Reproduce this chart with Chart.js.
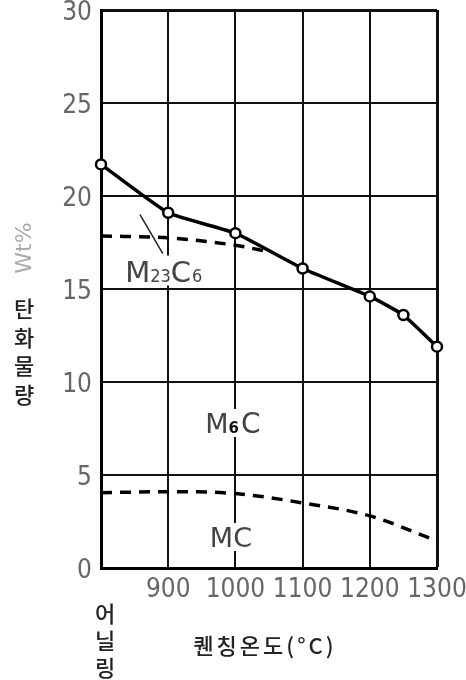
<!DOCTYPE html>
<html>
<head>
<meta charset="utf-8">
<script src="https://cdn.jsdelivr.net/npm/chart.js@4/dist/chart.umd.min.js"></script>
<style>
  html, body { margin: 0; padding: 0; background: #fff; }
  #wrap { width: 466px; height: 680px; }
</style>
</head>
<body>
<div id="wrap"><canvas id="chart" width="466" height="680"></canvas></div>
<script>
// 800 stands for the annealed state (어닐링)
const xTicks = [800, 900, 1000, 1100, 1200, 1300];
const yTicks = [0, 5, 10, 15, 20, 25, 30];

const totalTemps = [800, 900, 1000, 1100, 1200, 1250, 1300];
const totalCarbide = [21.7, 19.1, 18.0, 16.1, 14.6, 13.6, 11.9];

const m23Temps = [800, 900, 1000, 1050];
const m23Boundary = [17.85, 17.75, 17.35, 17.0];

const mcTemps = [800, 900, 1000, 1100, 1200, 1300];
const mcBoundary = [4.05, 4.1, 4.0, 3.5, 2.8, 1.45];

const toPts = (xs, ys) => xs.map((x, i) => ({ x: x, y: ys[i] }));

const tickFont = { family: "'Liberation Sans Narrow', 'DejaVu Sans Condensed'", size: 26 };
const krFont = "\"Noto Sans CJK KR\"";

// white box behind a label so the grid line is broken there, like the print
function clearBehind(ctx, x, y, w, h) {
  ctx.save();
  ctx.fillStyle = "#fff";
  ctx.fillRect(x, y, w, h);
  ctx.restore();
}

const labelsPlugin = {
  id: "labels",
  afterDraw(chart) {
    const ctx = chart.ctx;
    const x = chart.scales.x, y = chart.scales.y;
    ctx.save();

    ctx.fillStyle = "#444";
    ctx.textBaseline = "alphabetic";
    ctx.textAlign = "left";

    // M23C6
    let px = x.getPixelForValue(836), py = y.getPixelForValue(15.4);
    clearBehind(ctx, px - 2, py - 26, 82, 30);
    ctx.font = "29px 'DejaVu Sans'";
    ctx.fillText("M", px, py);
    px += ctx.measureText("M").width;
    ctx.font = "18px 'DejaVu Sans Condensed'";
    ctx.fillText("23", px, py);
    px += ctx.measureText("23").width;
    ctx.font = "29px 'DejaVu Sans'";
    ctx.fillText("C", px, py);
    px += ctx.measureText("C").width;
    ctx.font = "18px 'DejaVu Sans Condensed'";
    ctx.fillText("6", px + 1, py);

    // leader line to the M23C6 region
    ctx.strokeStyle = "#222";
    ctx.lineWidth = 1.5;
    ctx.beginPath();
    ctx.moveTo(x.getPixelForValue(858), y.getPixelForValue(19.0));
    ctx.lineTo(x.getPixelForValue(892), y.getPixelForValue(16.9));
    ctx.stroke();

    // M6C
    px = x.getPixelForValue(955); py = y.getPixelForValue(7.26);
    clearBehind(ctx, px - 2, py - 24, 64, 28);
    ctx.font = "27px 'DejaVu Sans'";
    ctx.fillText("M", px, py);
    px += ctx.measureText("M").width;
    ctx.font = "bold 15px 'DejaVu Sans'";
    ctx.fillStyle = "#111";
    ctx.fillText("6", px, py);
    px += ctx.measureText("6").width;
    ctx.fillStyle = "#444";
    ctx.font = "28px 'DejaVu Sans'";
    ctx.fillText("C", px + 2, py);

    // MC
    px = x.getPixelForValue(962); py = y.getPixelForValue(1.13);
    clearBehind(ctx, px - 2, py - 24, 56, 28);
    ctx.font = "27px 'DejaVu Sans'";
    ctx.fillText("MC", px, py);

    // y axis titles
    ctx.save();
    ctx.translate(25, 248);
    ctx.rotate(-Math.PI / 2);
    ctx.textAlign = "center";
    ctx.textBaseline = "middle";
    ctx.fillStyle = "#aaa";
    ctx.font = "22px 'DejaVu Sans'";
    ctx.fillText("Wt%", 0, 0);
    ctx.restore();

    ctx.textAlign = "center";
    ctx.textBaseline = "middle";
    ctx.fillStyle = "#222";
    ctx.font = "500 22px " + krFont;
    ["탄", "화", "물", "량"].forEach((c, i) => ctx.fillText(c, 24, 309 + i * 28.5));

    // annealed label under the first position
    const ax = x.getPixelForValue(800) + 4;
    ["어", "닐", "링"].forEach((c, i) => ctx.fillText(c, ax, 614 + i * 27));

    // x axis title
    ctx.font = "500 22px " + krFont;
    ctx.letterSpacing = "3px";
    ctx.fillText("퀜칭온도(°C)", (chart.chartArea.left + chart.chartArea.right) / 2 - 4, 646);

    ctx.restore();
  }
};

new Chart(document.getElementById("chart"), {
  type: "line",
  data: {
    datasets: [
      {
        data: toPts(totalTemps, totalCarbide),
        borderColor: "#000",
        borderWidth: 3.5,
        pointRadius: 5,
        pointBorderWidth: 2.5,
        pointBackgroundColor: "#fff",
        pointBorderColor: "#000",
        tension: 0.15,
        clip: false
      },
      {
        data: toPts(m23Temps, m23Boundary),
        borderColor: "#000",
        borderWidth: 3.5,
        borderDash: [11, 8],
        pointRadius: 0,
        cubicInterpolationMode: "monotone"
      },
      {
        data: toPts(mcTemps, mcBoundary),
        borderColor: "#000",
        borderWidth: 3.5,
        borderDash: [11, 8],
        pointRadius: 0,
        cubicInterpolationMode: "monotone"
      }
    ]
  },
  options: {
    responsive: false,
    animation: false,
    layout: { padding: { top: 10, right: 29, left: 0, bottom: 0 } },
    plugins: { legend: { display: false }, tooltip: { enabled: false } },
    scales: {
      x: {
        type: "linear",
        min: 800,
        max: 1300,
        afterBuildTicks: (s) => { s.ticks = xTicks.map(v => ({ value: v })); },
        afterFit: (s) => { s.height = 112; s.paddingLeft = 0; s.paddingRight = 0; },
        grid: {
          color: "#111",
          lineWidth: (c) => (c.index === xTicks.length - 1 ? 3 : 2),
          drawTicks: false
        },
        border: { color: "#000", width: 3 },
        ticks: {
          padding: 7,
          color: "#666",
          font: tickFont,
          maxRotation: 0,
          callback: (v) => (v === 800 ? "" : v)
        }
      },
      y: {
        min: 0,
        max: 30,
        afterBuildTicks: (s) => { s.ticks = yTicks.map(v => ({ value: v })); },
        afterFit: (s) => { s.width = 101; s.paddingTop = 0; s.paddingBottom = 0; },
        grid: {
          color: "#111",
          lineWidth: (c) => (c.index === yTicks.length - 1 ? 3 : 2),
          drawTicks: false
        },
        border: { color: "#000", width: 3 },
        ticks: { padding: 9, labelOffset: 3, color: "#666", font: tickFont }
      }
    }
  },
  plugins: [labelsPlugin]
});
</script>
</body>
</html>
